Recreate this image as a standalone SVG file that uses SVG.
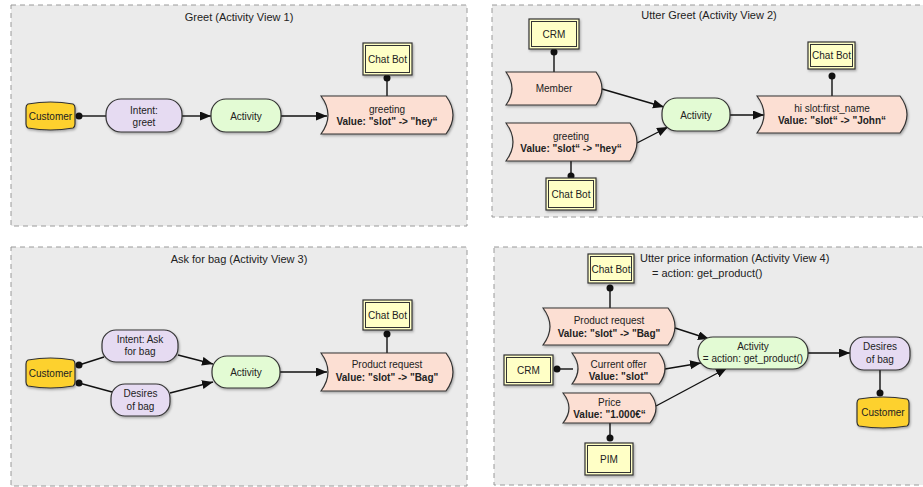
<svg xmlns="http://www.w3.org/2000/svg" width="923" height="487" viewBox="0 0 923 487">
<defs>
<style>
text{font-family:"Liberation Sans",Arial,sans-serif;font-size:10px;fill:#222;text-anchor:middle}
.t{font-size:11px}
.ts{font-size:11px;text-anchor:start}
.b{font-weight:bold}
.panel{fill:#ebebeb;stroke:#9a9a9a;stroke-width:1;stroke-dasharray:5,4}
.cust{fill:#fdd12e;stroke:#333;stroke-width:1.2}
.purp{fill:#e6dbf2;stroke:#333;stroke-width:1.2}
.grn{fill:#e3fbd4;stroke:#333;stroke-width:1.2}
.data{fill:#fcdfd3;stroke:#333;stroke-width:1.2}
.sys{fill:#ffffc6;stroke:#333;stroke-width:1.2}
.sysi{fill:none;stroke:#333;stroke-width:1}
.c{stroke:#111;stroke-width:1.4;fill:none}
.a{stroke:#111;stroke-width:1.4;fill:none;marker-end:url(#arr)}
.dot{fill:#111}
.sh{filter:url(#shd)}
</style>
<marker id="arr" markerUnits="userSpaceOnUse" markerWidth="12" markerHeight="10" refX="11" refY="4.5" orient="auto">
<path d="M0,0 L11,4.5 L0,9 Z" fill="#111"/>
</marker>
<filter id="shd" x="-10%" y="-10%" width="130%" height="140%">
<feDropShadow dx="1" dy="1.5" stdDeviation="0.8" flood-color="#000" flood-opacity="0.3"/>
</filter>
</defs>

<g id="panel1">
<rect class="panel" x="11" y="5" width="456" height="221"/>
<text class="t" x="239" y="21">Greet (Activity View 1)</text>
</g>
<g id="panel2">
<rect class="panel" x="492" y="5" width="440" height="212"/>
<text class="t" x="709" y="19">Utter Greet (Activity View 2)</text>
</g>
<g id="panel3">
<rect class="panel" x="11" y="247" width="456" height="239"/>
<text class="t" x="239" y="263">Ask for bag (Activity View 3)</text>
</g>
<g id="panel4">
<rect class="panel" x="494" y="247" width="440" height="238"/>
<text class="ts" x="640" y="262">Utter price information (Activity View 4)</text>
<text class="ts" x="652" y="277">= action: get_product()</text>
</g>

<g id="connectors">
<!-- panel 1 -->
<line class="c" x1="79" y1="116" x2="106" y2="116"/>
<line class="a" x1="182" y1="116" x2="211" y2="116"/>
<line class="a" x1="281" y1="116" x2="327" y2="116"/>
<line class="c" x1="387" y1="78" x2="387" y2="96"/>
<!-- panel 2 -->
<line class="c" x1="554" y1="52" x2="554" y2="72"/>
<line class="c" x1="571" y1="161" x2="571" y2="176"/>
<line class="a" x1="602" y1="89" x2="664" y2="107"/>
<line class="a" x1="637" y1="143" x2="668" y2="127"/>
<line class="a" x1="730" y1="115" x2="764" y2="115"/>
<line class="c" x1="832" y1="76" x2="832" y2="96"/>
<!-- panel 3 -->
<line class="c" x1="79" y1="365" x2="104" y2="357"/>
<line class="c" x1="79" y1="383" x2="112" y2="392"/>
<line class="a" x1="178" y1="355" x2="213" y2="364"/>
<line class="a" x1="170" y1="393" x2="213" y2="382"/>
<line class="a" x1="280" y1="372" x2="327" y2="372"/>
<line class="c" x1="387" y1="334" x2="387" y2="353"/>
<!-- panel 4 -->
<line class="c" x1="610" y1="288" x2="610" y2="308"/>
<line class="c" x1="557" y1="369" x2="573" y2="369"/>
<line class="c" x1="610" y1="423" x2="610" y2="438"/>
<line class="a" x1="675" y1="328" x2="709" y2="339"/>
<line class="a" x1="665" y1="369" x2="701" y2="363"/>
<line class="a" x1="656" y1="406" x2="727" y2="368"/>
<line class="a" x1="808" y1="353" x2="850" y2="353"/>
<line class="c" x1="880" y1="370" x2="880" y2="393"/>
<!-- dots -->
<circle class="dot" cx="79" cy="116" r="3.5"/>
<circle class="dot" cx="387" cy="78" r="3.5"/>
<circle class="dot" cx="554" cy="52" r="3.5"/>
<circle class="dot" cx="571" cy="176" r="3.5"/>
<circle class="dot" cx="832" cy="76" r="3.5"/>
<circle class="dot" cx="79" cy="365" r="3.5"/>
<circle class="dot" cx="79" cy="383" r="3.5"/>
<circle class="dot" cx="387" cy="334" r="3.5"/>
<circle class="dot" cx="610" cy="288" r="3.5"/>
<circle class="dot" cx="557" cy="369" r="3.5"/>
<circle class="dot" cx="610" cy="438" r="3.5"/>
<circle class="dot" cx="880" cy="393" r="3.5"/>
</g>

<!-- Panel 1 nodes -->
<g id="p1-customer">
<path class="cust sh" d="M28,104 Q50.5,100 73,104 Q75,105 75,108 L75,124 Q75,127 73,128 Q50.5,132 28,128 Q26,127 26,124 L26,108 Q26,105 28,104 Z"/>
<text x="50.5" y="120">Customer</text>
</g>
<g id="p1-intent">
<rect class="purp sh" x="106" y="99" width="76" height="33" rx="15"/>
<text x="144" y="113.5">Intent:</text>
<text x="144" y="125.5">greet</text>
</g>
<g id="p1-activity">
<rect class="grn sh" x="211" y="99" width="70" height="33" rx="15"/>
<text x="246" y="119.5">Activity</text>
</g>
<g id="p1-greeting">
<path class="data sh" d="M321,96 L446,96 Q460,115 446,134 L321,134 Q335,115 321,96 Z"/>
<text x="387" y="113">greeting</text>
<text class="b" x="387" y="125">Value: "slot" -&gt; "hey“</text>
</g>
<g id="p1-chatbot">
<rect class="sys sh" x="363" y="43" width="49" height="32"/>
<rect class="sysi" x="365.5" y="45.5" width="44" height="27"/>
<text x="387.5" y="62.5">Chat Bot</text>
</g>

<!-- Panel 2 nodes -->
<g id="p2-crm">
<rect class="sys sh" x="529" y="19" width="50" height="30"/>
<rect class="sysi" x="531.5" y="21.5" width="45" height="25"/>
<text x="554" y="37.5">CRM</text>
</g>
<g id="p2-member">
<path class="data sh" d="M506,72 L596,72 Q608,88.5 596,105 L506,105 Q518,88.5 506,72 Z"/>
<text x="554" y="92">Member</text>
</g>
<g id="p2-greeting">
<path class="data sh" d="M506,123 L630,123 Q644,142 630,161 L506,161 Q520,142 506,123 Z"/>
<text x="571" y="139.5">greeting</text>
<text class="b" x="571" y="151.5">Value: "slot“ -&gt; "hey“</text>
</g>
<g id="p2-chatbot-low">
<rect class="sys sh" x="546" y="178" width="50" height="32"/>
<rect class="sysi" x="548.5" y="180.5" width="45" height="27"/>
<text x="571" y="197.5">Chat Bot</text>
</g>
<g id="p2-activity">
<rect class="grn sh" x="662" y="98" width="68" height="33" rx="15"/>
<text x="696" y="118.5">Activity</text>
</g>
<g id="p2-hi">
<path class="data sh" d="M757,96 L900,96 Q914,114.5 900,133 L757,133 Q771,114.5 757,96 Z"/>
<text x="832" y="111.5">hi slot:first_name</text>
<text class="b" x="832" y="123.5">Value: "slot“ -&gt; "John“</text>
</g>
<g id="p2-chatbot-up">
<rect class="sys sh" x="808" y="42" width="47" height="27"/>
<rect class="sysi" x="810.5" y="44.5" width="42" height="22"/>
<text x="831.5" y="59">Chat Bot</text>
</g>

<!-- Panel 3 nodes -->
<g id="p3-customer">
<path class="cust sh" d="M28,360 Q50.5,356 73,360 Q75,361 75,364 L75,382 Q75,385 73,386 Q50.5,390 28,386 Q26,385 26,382 L26,364 Q26,361 28,360 Z"/>
<text x="50.5" y="377">Customer</text>
</g>
<g id="p3-intent">
<rect class="purp sh" x="102" y="330" width="76" height="32" rx="14"/>
<text x="140" y="342.5">Intent: Ask</text>
<text x="140" y="355">for bag</text>
</g>
<g id="p3-desires">
<rect class="purp sh" x="111" y="384" width="59" height="32" rx="14"/>
<text x="140.5" y="397">Desires</text>
<text x="140.5" y="409.5">of bag</text>
</g>
<g id="p3-activity">
<rect class="grn sh" x="212" y="356" width="68" height="32" rx="15"/>
<text x="246" y="375.5">Activity</text>
</g>
<g id="p3-product">
<path class="data sh" d="M321,353 L446,353 Q460,372 446,391 L321,391 Q335,372 321,353 Z"/>
<text x="387" y="368">Product request</text>
<text class="b" x="387" y="380.5">Value: "slot" -&gt; "Bag"</text>
</g>
<g id="p3-chatbot">
<rect class="sys sh" x="363" y="300" width="49" height="30"/>
<rect class="sysi" x="365.5" y="302.5" width="44" height="25"/>
<text x="387.5" y="318.5">Chat Bot</text>
</g>

<!-- Panel 4 nodes -->
<g id="p4-chatbot">
<rect class="sys sh" x="588" y="254" width="46" height="29"/>
<rect class="sysi" x="590.5" y="256.5" width="41" height="24"/>
<text x="611" y="272.5">Chat Bot</text>
</g>
<g id="p4-product">
<path class="data sh" d="M543,308 L668,308 Q682,326.5 668,345 L543,345 Q557,326.5 543,308 Z"/>
<text x="609" y="324">Product request</text>
<text class="b" x="609" y="336.5">Value: "slot" -&gt; "Bag"</text>
</g>
<g id="p4-crm">
<rect class="sys sh" x="504" y="355" width="49" height="30"/>
<rect class="sysi" x="506.5" y="357.5" width="44" height="25"/>
<text x="528.5" y="373.5">CRM</text>
</g>
<g id="p4-offer">
<path class="data sh" d="M572,353 L659,353 Q671,368.5 659,384 L572,384 Q584,368.5 572,353 Z"/>
<text x="618.5" y="368">Current offer</text>
<text class="b" x="618.5" y="380">Value: "slot"</text>
</g>
<g id="p4-price">
<path class="data sh" d="M563,393 L650,393 Q662,408 650,423 L563,423 Q575,408 563,393 Z"/>
<text x="609.5" y="405.5">Price</text>
<text class="b" x="609.5" y="417.5">Value: "1.000€“</text>
</g>
<g id="p4-pim">
<rect class="sys sh" x="585" y="443" width="48" height="32"/>
<rect class="sysi" x="587.5" y="445.5" width="43" height="27"/>
<text x="609" y="463">PIM</text>
</g>
<g id="p4-activity">
<rect class="grn sh" x="698" y="337" width="110" height="32" rx="15"/>
<text x="753" y="349.5">Activity</text>
<text x="753" y="361.5">= action: get_product()</text>
</g>
<g id="p4-desires">
<rect class="purp sh" x="850" y="337" width="60" height="33" rx="14"/>
<text x="880" y="350">Desires</text>
<text x="880" y="362.5">of bag</text>
</g>
<g id="p4-customer">
<path class="cust sh" d="M859,399 Q883,395 907,399 Q909,400 909,403 L909,422 Q909,425 907,426 Q883,430 859,426 Q857,425 857,422 L857,403 Q857,400 859,399 Z"/>
<text x="883" y="416">Customer</text>
</g>
</svg>
